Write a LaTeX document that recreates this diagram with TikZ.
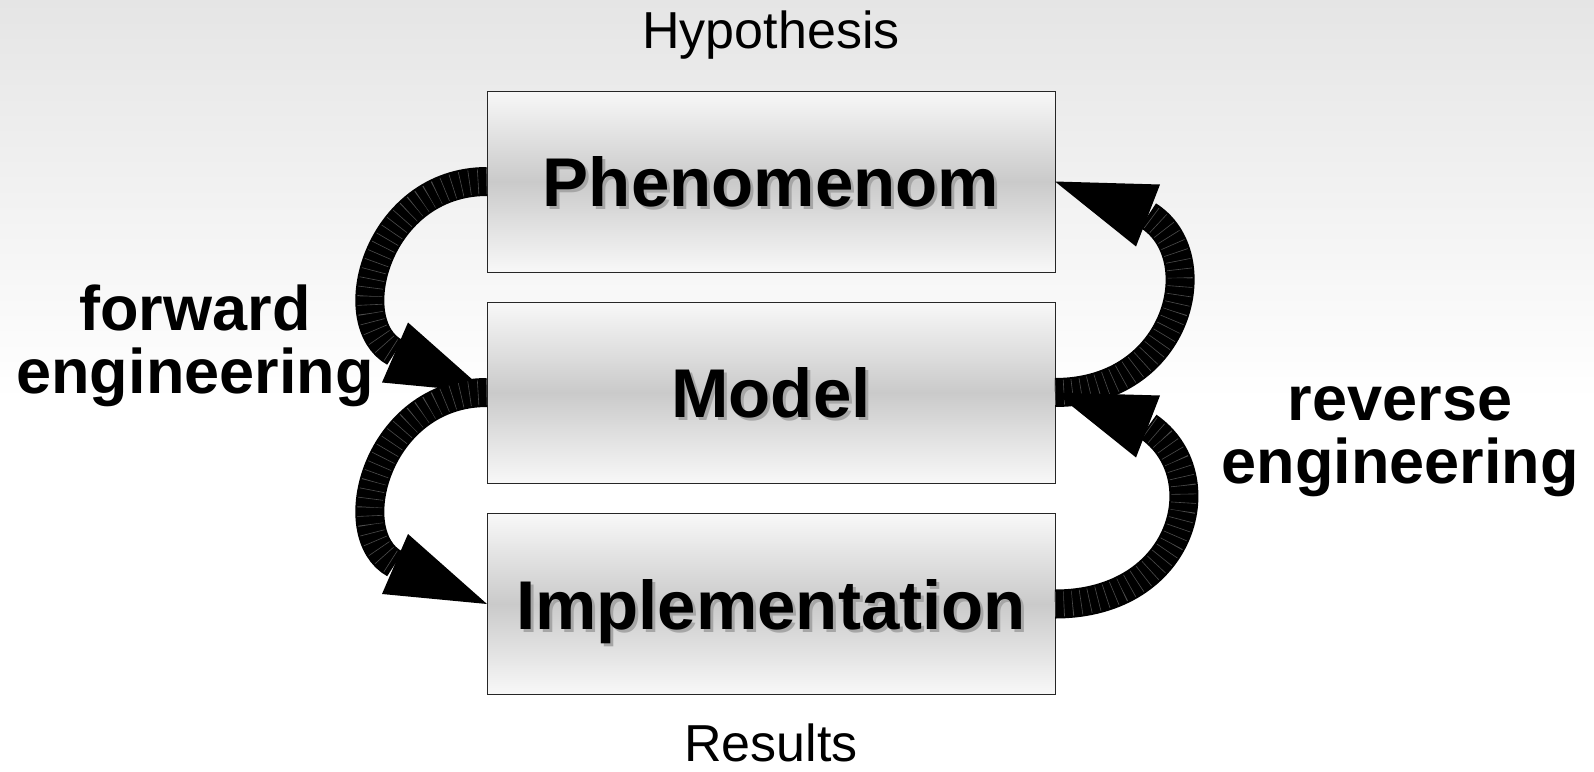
\documentclass[tikz,border=0pt]{standalone}
\usepackage{fontspec}
\setmainfont{Liberation Sans}
\usetikzlibrary{calc}
\definecolor{bgtop}{RGB}{229,229,229}
\definecolor{boxlight}{RGB}{248,248,248}
\definecolor{boxdark}{RGB}{202,202,202}
\newcommand\shadowtext[1]{\makebox[0pt][l]{\hspace{3pt}\raisebox{-3pt}{\textcolor{black!35}{#1}}}#1}
\begin{document}
\begin{tikzpicture}[x=1pt,y=-1pt,
  box/.style={draw=black!85, line width=1pt, minimum width=568pt, minimum height=181pt,
    inner sep=0pt, outer sep=0pt, top color=boxlight, bottom color=boxlight, middle color=boxdark,
    font=\fontsize{69}{69}\selectfont\bfseries, text height=50pt, text depth=0pt},
  shaft/.style={draw=black, line width=29pt,
    postaction={draw=black!70, line width=25pt, dash pattern=on 0.6pt off 8pt}},
  head/.style={fill=black},
  plain/.style={font=\fontsize{52}{52}\selectfont, anchor=base, inner sep=0pt, text depth=0pt},
  side/.style={font=\fontsize{63}{63}\selectfont\bfseries, align=center, anchor=base}
]
\useasboundingbox (0,0) rectangle (1594,771);
\fill[top color=bgtop, bottom color=white] (0,0) rectangle (1594,400);
\fill[white] (0,400) rectangle (1594,771);

\node[box] (phen) at (771,181.5) {\shadowtext{Phenomenom}};
\node[box] (model) at (771,392.5) {\shadowtext{Model}};
\node[box] (impl) at (771,604) {\shadowtext{Implementation}};

\node[plain] (hyp) at (771,48) {Hypothesis};
\node[plain] (res) at (771,761) {Results};
\node[side] (fwd) at (195,393) {forward\\engineering};
\node[side] (rev) at (1400,483) {reverse\\engineering};

% forward engineering arrows (left)
\draw[shaft] (phen.west) .. controls +(-110,0) and +(-55,-30) .. ($(model.west)+(-92,-40)$);
\fill[head] (model.west) -- ++(-79,-70) -- ++(-26,60) -- cycle;
\draw[shaft] (model.west) .. controls +(-110,0) and +(-55,-30) .. ($(impl.west)+(-92,-40)$);
\fill[head] (impl.west) -- ++(-79,-70) -- ++(-26,60) -- cycle;

% reverse engineering arrows (right)
\draw[shaft] (model.east) .. controls +(125,0) and +(64,40) .. ($(phen.east)+(93,34)$);
\fill[head] (phen.east) -- ++(105,3) -- ++(-24,62) -- cycle;
\draw[shaft] (impl.east) .. controls +(130,0) and +(70,48) .. ($(model.east)+(93,34)$);
\fill[head] (model.east) -- ++(105,3) -- ++(-24,62) -- cycle;
\end{tikzpicture}
\end{document}
